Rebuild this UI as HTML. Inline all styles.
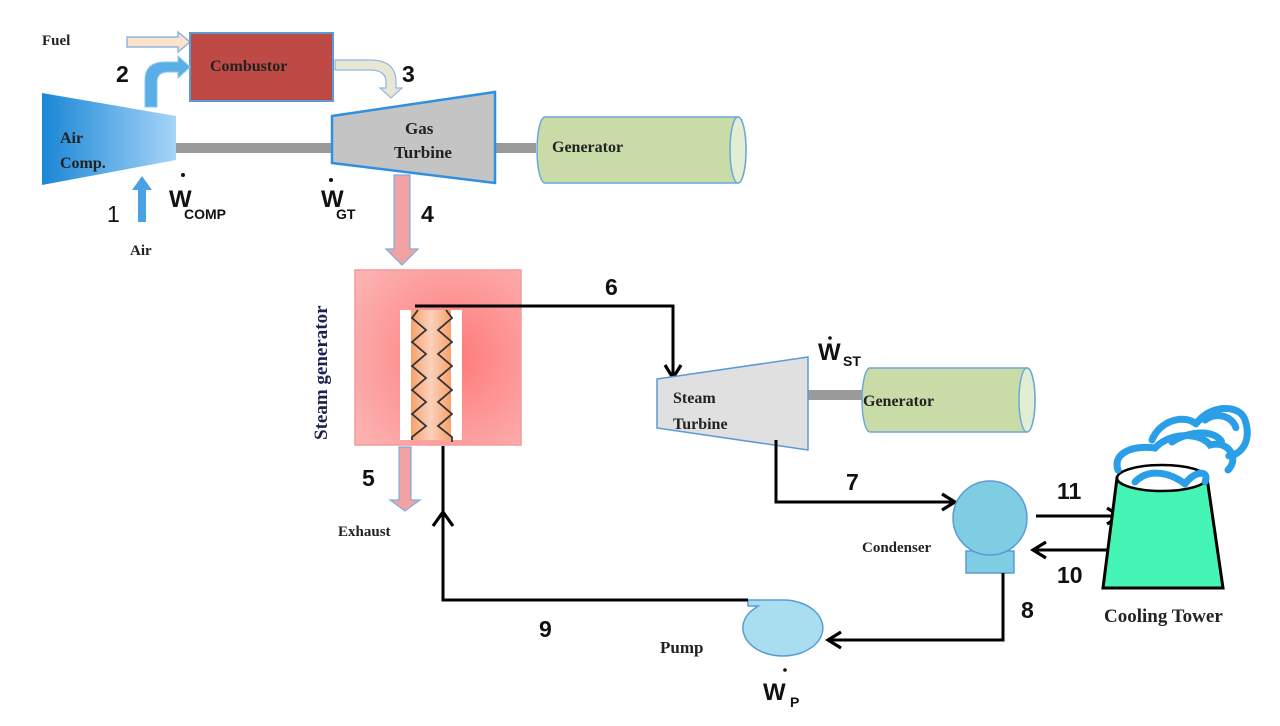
<!DOCTYPE html>
<html><head><meta charset="utf-8"><style>
html,body{margin:0;padding:0;background:#fff;}
svg{display:block}
.s{font-family:"Liberation Serif",serif;font-weight:bold;fill:#222;}
.n{font-family:"Liberation Sans",sans-serif;font-size:23px;fill:#111;font-weight:bold;}
.w{font-family:"Liberation Sans",sans-serif;font-weight:bold;fill:#111;}
</style></head><body>
<svg width="1280" height="726" viewBox="0 0 1280 726" xmlns="http://www.w3.org/2000/svg">
<defs>
<linearGradient id="ac" x1="0" x2="1"><stop offset="0" stop-color="#1a86d6"/><stop offset="1" stop-color="#a6d4f8"/></linearGradient>
<radialGradient id="sg" cx="0.6" cy="0.5" r="0.7"><stop offset="0" stop-color="#ff7a7a"/><stop offset="1" stop-color="#fcb0b0"/></radialGradient>
<linearGradient id="coil" x1="0" x2="1"><stop offset="0" stop-color="#f7a16a"/><stop offset="0.5" stop-color="#fbd1bd"/><stop offset="1" stop-color="#f7a16a"/></linearGradient>
<marker id="ah" markerWidth="18" markerHeight="20" refX="15" refY="10" orient="auto" markerUnits="userSpaceOnUse"><path d="M2,2 L15,10 L2,18" fill="none" stroke="#000" stroke-width="3.2"/></marker>
</defs>

<text class="s" x="42" y="45" font-size="15">Fuel</text>
<path d="M127,37 H178 V32 L190,42 L178,52 V47 H127 Z" fill="#fde3cc" stroke="#8fb8e0" stroke-width="1.5"/>
<rect x="190" y="33" width="143" height="68" fill="#bd4a45" stroke="#5b9bd5" stroke-width="2"/>
<text class="s" x="210" y="71" font-size="16">Combustor</text>
<path d="M145,107 V80 Q145,62 165,62 H178 V56 L190,67 L178,78 V72 H168 Q157,72 157,82 V107 Z" fill="#5aaee8" stroke="#8cc4ee" stroke-width="1"/>
<text class="n" x="116" y="82">2</text>
<path d="M335,60 H370 Q396,60 396,82 V88 H402 L391,98 L380,88 H386 V82 Q386,70 370,70 H335 Z" fill="#e9e6d6" stroke="#8fb8e0" stroke-width="1.2"/>
<text class="n" x="402" y="82">3</text>
<rect x="176" y="143" width="160" height="10" fill="#9a9a9a"/>
<rect x="494" y="143" width="42" height="10" fill="#9a9a9a"/>
<polygon points="42,93 176,116 176,160 42,185" fill="url(#ac)"/>
<text class="s" x="60" y="143" font-size="16">Air</text>
<text class="s" x="60" y="168" font-size="16">Comp.</text>
<polygon points="332,116 495,92 495,183 332,163" fill="#c4c4c4" stroke="#2f8fe0" stroke-width="2.5"/>
<text class="s" x="405" y="134" font-size="17">Gas</text>
<text class="s" x="394" y="158" font-size="17">Turbine</text>
<path d="M545,117 H738 A8,33 0 0 1 738,183 H545 A8,33 0 0 1 545,117 Z" fill="#c9dca8" stroke="#6aa8dc" stroke-width="1.5"/>
<ellipse cx="738" cy="150" rx="8" ry="33" fill="#e2edd2" stroke="#6aa8dc" stroke-width="1.5"/>
<text class="s" x="552" y="152" font-size="16">Generator</text>
<text class="w" x="169" y="207" font-size="24">W</text><text class="w" x="184" y="219" font-size="14">COMP</text>
<circle cx="183" cy="175" r="2" fill="#111"/>
<text class="w" x="321" y="207" font-size="24">W</text><text class="w" x="336" y="219" font-size="14">GT</text>
<circle cx="331" cy="180" r="2" fill="#111"/>
<path d="M138,222 V190 H132 L142,176 L152,190 H146 V222 Z" fill="#4aa2e4"/>
<text class="n" x="107" y="222" style="font-weight:normal">1</text>
<text class="s" x="130" y="255" font-size="15">Air</text>
<path d="M394,175 V249 H386 L402,265 L418,249 H410 V175 Z" fill="#f2a2a2" stroke="#7ab0e0" stroke-width="1.2"/>
<text class="n" x="421" y="222">4</text>
<rect x="355" y="270" width="166" height="175" fill="url(#sg)" stroke="#f39a9a" stroke-width="1.5"/>
<rect x="400" y="310" width="62" height="130" fill="#fff"/>
<rect x="411" y="310" width="40" height="130" fill="url(#coil)"/>
<polyline points="418,310 412,318 426,330 412,342 426,354 412,366 426,378 412,390 426,402 412,414 426,426 412,437 412,440" fill="none" stroke="#333" stroke-width="1.8"/>
<polyline points="446,310 452,318 438,330 452,342 438,354 452,366 438,378 452,390 438,402 452,414 438,426 452,437 452,442" fill="none" stroke="#333" stroke-width="1.8"/>
<text class="s" font-size="19" transform="translate(327,440) rotate(-90)" style="fill:#1a2350">Steam generator</text>
<path d="M399,447 V500 H390 L405,511 L420,500 H411 V447 Z" fill="#f2a2a2" stroke="#7ab0e0" stroke-width="1.2"/>
<text class="n" x="362" y="486">5</text>
<text class="s" x="338" y="536" font-size="15">Exhaust</text>
<polyline points="415,306 673,306 673,378" fill="none" stroke="#000" stroke-width="3" marker-end="url(#ah)"/>
<text class="n" x="605" y="295">6</text>
<rect x="806" y="390" width="58" height="10" fill="#9a9a9a"/>
<polygon points="657,379 808,357 808,450 657,428" fill="#e0e0e0" stroke="#5b9bd5" stroke-width="1.5"/>
<text class="s" x="673" y="403" font-size="16">Steam</text>
<text class="s" x="673" y="429" font-size="16">Turbine</text>
<path d="M870,368 H1027 A8,32 0 0 1 1027,432 H870 A8,32 0 0 1 870,368 Z" fill="#c9dca8" stroke="#6aa8dc" stroke-width="1.5"/>
<ellipse cx="1027" cy="400" rx="8" ry="32" fill="#e2edd2" stroke="#6aa8dc" stroke-width="1.5"/>
<text class="s" x="863" y="406" font-size="16">Generator</text>
<text class="w" x="818" y="360" font-size="24">W</text><text class="w" x="843" y="366" font-size="14">ST</text>
<circle cx="830" cy="338" r="1.8" fill="#111"/>
<polyline points="776,440 776,502 955,502" fill="none" stroke="#000" stroke-width="3" marker-end="url(#ah)"/>
<text class="n" x="846" y="490">7</text>
<rect x="966" y="551" width="48" height="22" fill="#7fcde3" stroke="#5b9bd5" stroke-width="1.5"/>
<circle cx="990" cy="518" r="37" fill="#7fcde3" stroke="#5b9bd5" stroke-width="1.5"/>
<text class="s" x="862" y="552" font-size="15">Condenser</text>
<line x1="1036" y1="516" x2="1120" y2="516" stroke="#000" stroke-width="3" marker-end="url(#ah)"/>
<text class="n" x="1057" y="499">11</text>
<line x1="1108" y1="550" x2="1033" y2="550" stroke="#000" stroke-width="3" marker-end="url(#ah)"/>
<text class="n" x="1057" y="583">10</text>
<polygon points="1117,478 1207,478 1223,588 1103,588" fill="#45f5b5" stroke="#000" stroke-width="3"/>
<ellipse cx="1162" cy="478" rx="45" ry="13" fill="#fff" stroke="#000" stroke-width="2.5"/>
<g fill="none" stroke="#2a9ee6" stroke-width="7" stroke-dasharray="4 1.5" stroke-linecap="round">
<path d="M1118,470 C1112,452 1135,445 1155,448 C1170,432 1200,432 1210,445 C1228,440 1240,458 1228,470"/>
<path d="M1152,440 C1160,420 1185,414 1196,424 C1210,404 1240,404 1245,420 C1252,440 1242,455 1228,456"/>
<path d="M1135,482 C1148,468 1170,472 1185,484 C1195,470 1210,470 1205,482"/>
<path d="M1172,442 C1190,430 1215,430 1222,442"/>
<path d="M1205,420 C1215,412 1232,415 1236,428"/>
</g>
<text class="s" x="1104" y="622" font-size="19">Cooling Tower</text>
<polyline points="1003,573 1003,640 828,640" fill="none" stroke="#000" stroke-width="3" marker-end="url(#ah)"/>
<text class="n" x="1021" y="618">8</text>
<path d="M748,600 H785 A40,28 0 1 1 750,612 L758,606 H748 Z" fill="#a8def0" stroke="#5b9bd5" stroke-width="1.5"/>
<text class="s" x="660" y="653" font-size="17">Pump</text>
<text class="w" x="763" y="700" font-size="24">W</text><text class="w" x="790" y="707" font-size="14">P</text>
<circle cx="785" cy="670" r="1.8" fill="#111"/>
<polyline points="748,600 443,600 443,446" fill="none" stroke="#000" stroke-width="3"/>
<polyline points="433,526 443,512 453,526" fill="none" stroke="#000" stroke-width="3.2"/>
<text class="n" x="539" y="637">9</text>
</svg>
</body></html>
